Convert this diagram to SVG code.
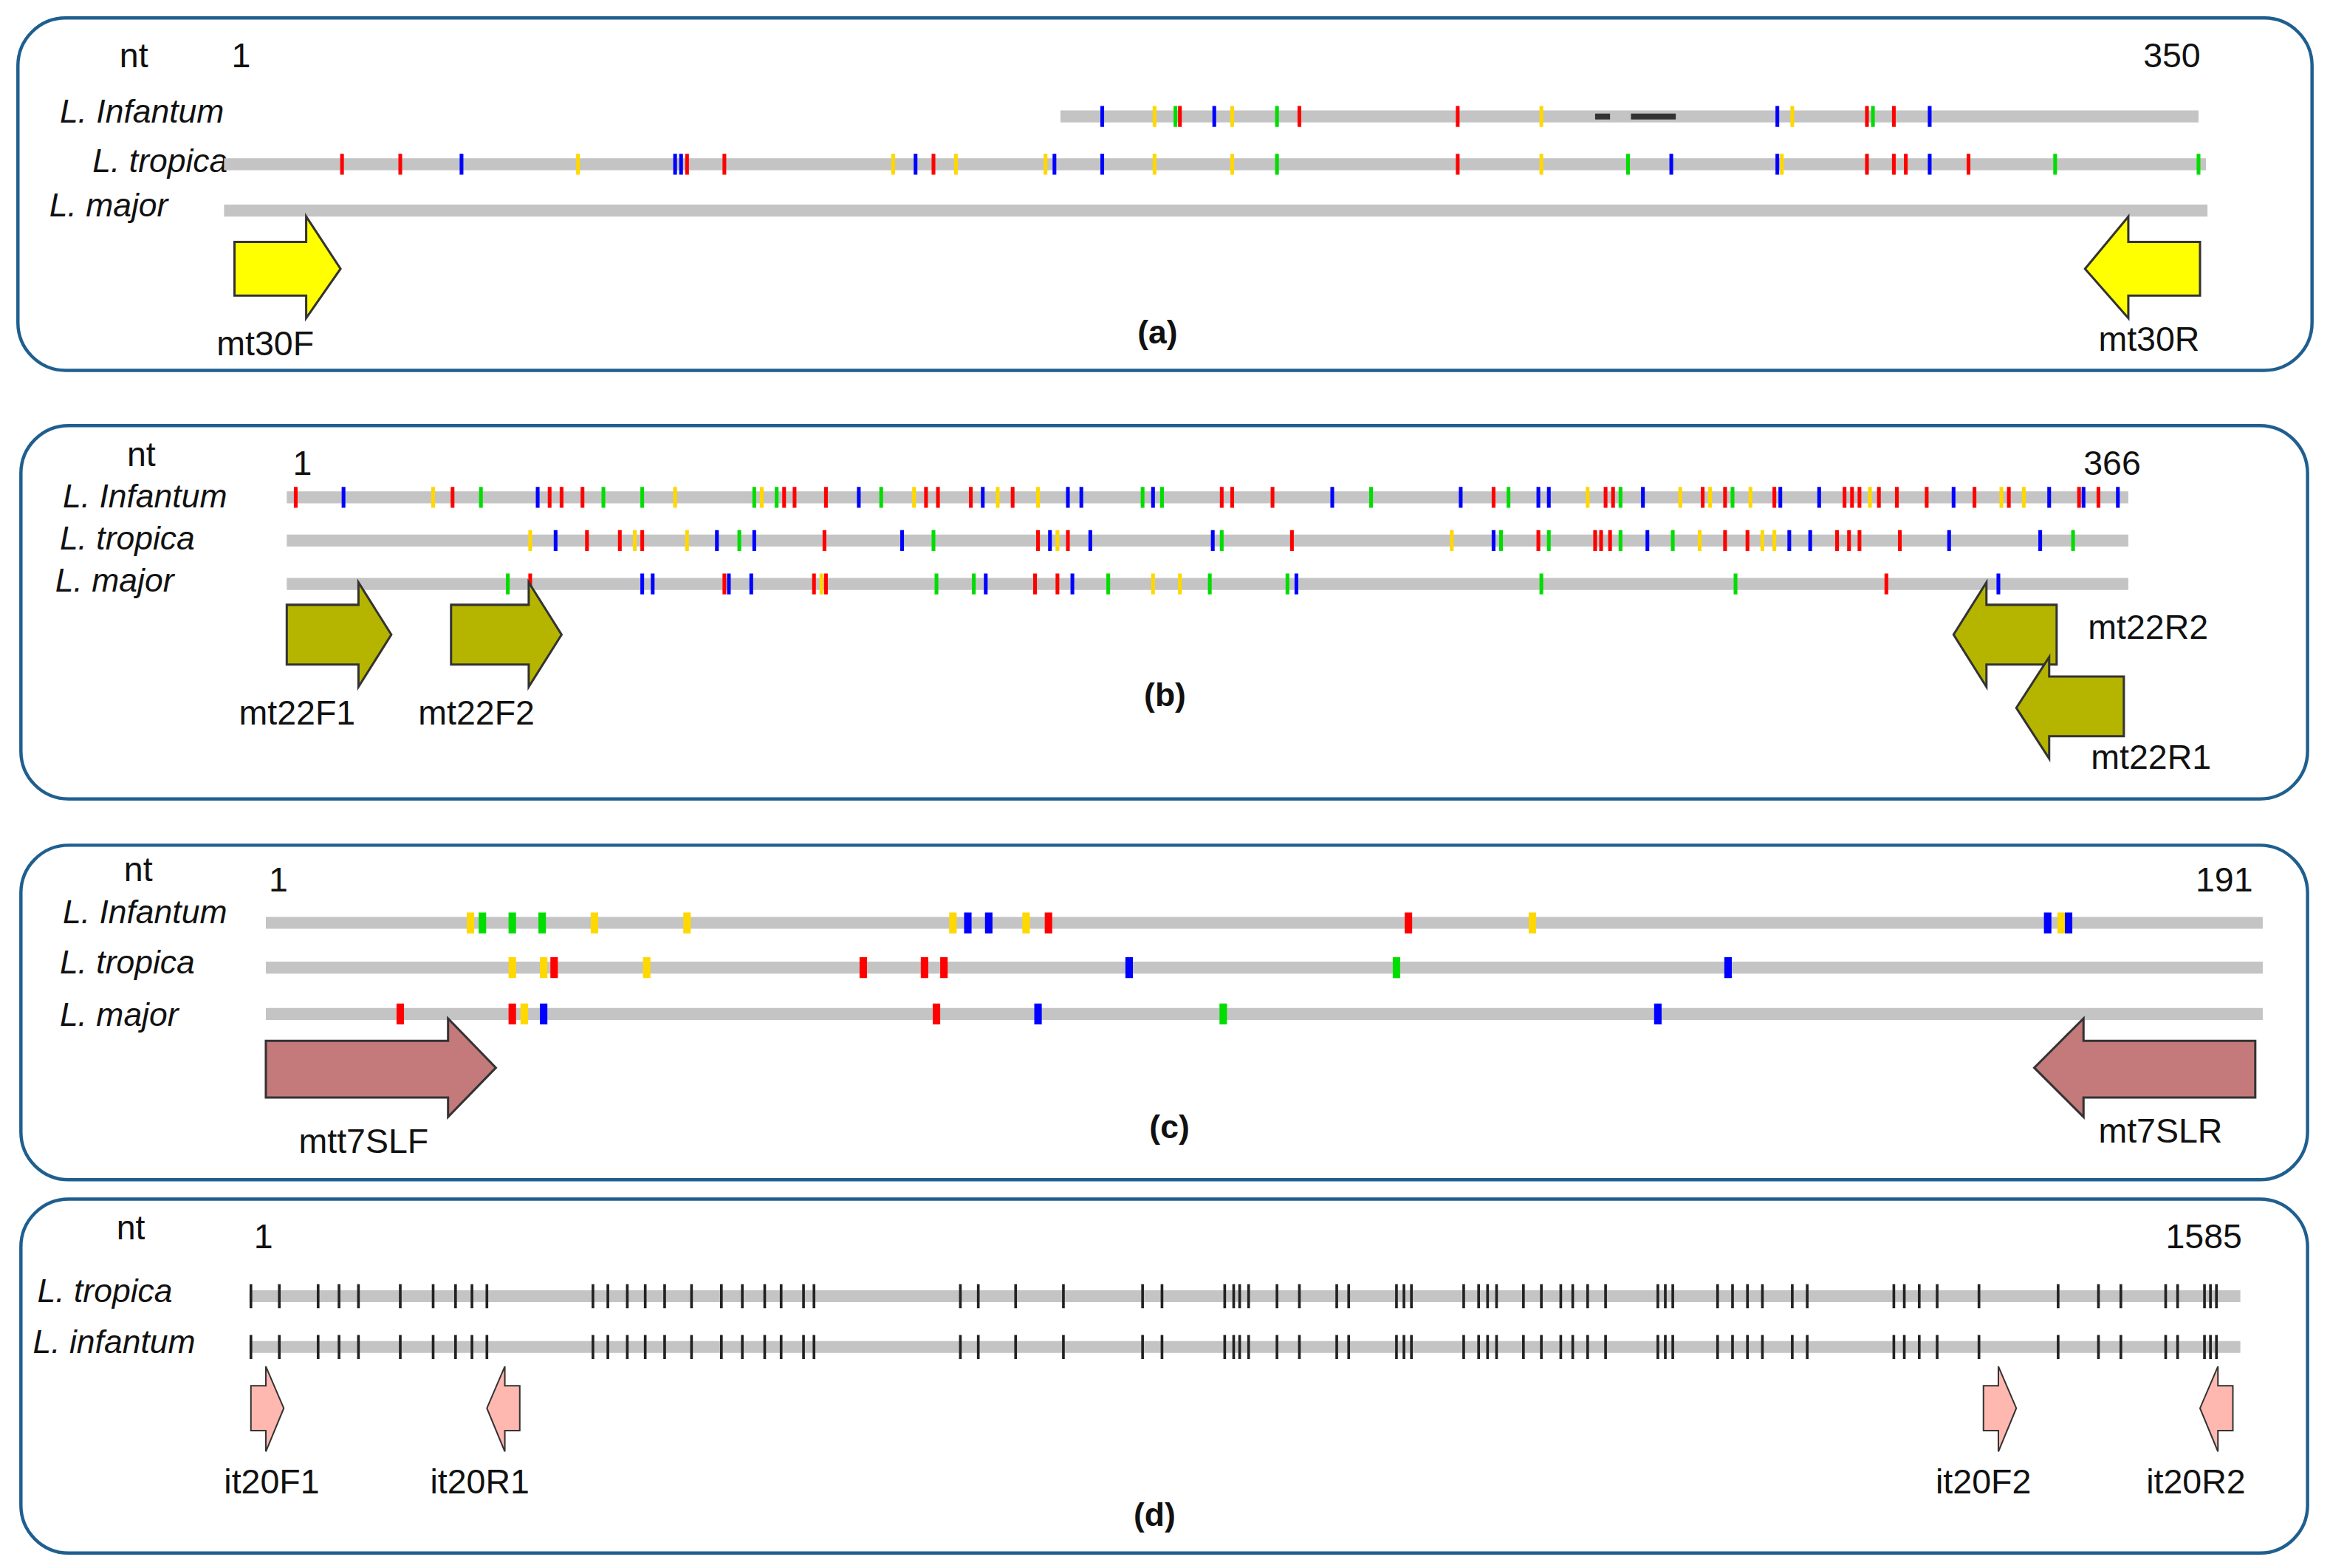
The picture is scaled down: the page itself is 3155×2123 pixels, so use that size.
<svg xmlns="http://www.w3.org/2000/svg" width="3155" height="2123" viewBox="0 0 3155 2123">
<style>
.box{fill:#fff;stroke:#1f5f8f;stroke-width:2.2}
.bar{stroke:#c4c4c4;stroke-width:8}
.R{stroke:#ff0000;stroke-width:2.5;fill:none}.B{stroke:#0000ff;stroke-width:2.5;fill:none}.Y{stroke:#ffd800;stroke-width:2.5;fill:none}.G{stroke:#00dd00;stroke-width:2.5;fill:none}
.w .R,.w .B,.w .Y,.w .G{stroke-width:5}
.K{stroke:#222;stroke-width:1.8;fill:none}
.t{font-family:"Liberation Sans",Arial,sans-serif;font-size:23px;fill:#111}
.sp{font-family:"Liberation Sans",Arial,sans-serif;font-size:22px;font-style:italic;fill:#111}
.lab{font-family:"Liberation Sans",Arial,sans-serif;font-size:22px;font-weight:bold;fill:#111;text-anchor:middle}
.ya{fill:#ffff00;stroke:#333;stroke-width:1.5}
.oa{fill:#b5b500;stroke:#333;stroke-width:1.5}
.ra{fill:#c47a7a;stroke:#333;stroke-width:1.5}
.pa{fill:#ffb8b0;stroke:#333;stroke-width:1}
</style>
<g transform="scale(2.0224 2.0219)">
<g id="panelA">
<rect class="box" x="12" y="12" width="1536" height="236" rx="32"/>
<text class="t" x="80" y="45">nt</text><text class="t" x="155" y="45">1</text><text class="t" x="1435" y="45">350</text>
<text class="sp" x="40" y="82">L. Infantum</text><text class="sp" x="62" y="115">L. tropica</text><text class="sp" x="33" y="145">L. major</text>
<path class="bar" d="M710 78H1472M150 110H1477M150 141H1478"/>
<path d="M1068 78h10M1092 78h30" stroke="#333" stroke-width="4"/>
<path class="B" d="M738 71v14M813 71v14M1190 71v14M1292 71v14"/>
<path class="Y" d="M773 71v14M825 71v14M1032 71v14M1200 71v14"/>
<path class="G" d="M787 71v14M855 71v14M1254 71v14"/>
<path class="R" d="M790 71v14M870 71v14M976 71v14M1250 71v14M1268 71v14"/>
<path class="R" d="M229 103v14M268 103v14M460 103v14M485 103v14M625 103v14M976 103v14M1250 103v14M1268 103v14M1276 103v14M1318 103v14"/>
<path class="B" d="M309 103v14M452 103v14M456 103v14M613 103v14M706 103v14M738 103v14M1119 103v14M1190 103v14M1292 103v14"/>
<path class="Y" d="M387 103v14M598 103v14M640 103v14M700 103v14M773 103v14M825 103v14M1032 103v14M1193 103v14"/>
<path class="G" d="M855 103v14M1090 103v14M1376 103v14M1472 103v14"/>
<polygon class="ya" points="157,162 205,162 205,145 228,180 205,213 205,198 157,198"/>
<polygon class="ya" points="1473,162 1425,162 1425,145 1396,180 1425,213 1425,198 1473,198"/>
<text class="t" x="145" y="238">mt30F</text><text class="t" x="1405" y="235">mt30R</text>
<text class="lab" x="775" y="230">(a)</text>
</g>
<g id="panelB">
<rect class="box" x="14" y="285" width="1531" height="250" rx="32"/>
<text class="t" x="85" y="312">nt</text><text class="t" x="196" y="318">1</text><text class="t" x="1395" y="318">366</text>
<text class="sp" x="42" y="340">L. Infantum</text><text class="sp" x="40" y="368">L. tropica</text><text class="sp" x="37" y="396">L. major</text>
<path class="bar" d="M192 333H1425M192 362H1425M192 391H1425"/>
<path class="R" d="M198 326v14M303 326v14M368 326v14M376 326v14M390 326v14M525 326v14M532 326v14M553 326v14M620 326v14M628 326v14M650 326v14M678 326v14M818 326v14M825 326v14M852 326v14M1000 326v14M1075 326v14M1080 326v14M1140 326v14M1155 326v14M1188 326v14M1235 326v14M1240 326v14M1245 326v14M1258 326v14M1270 326v14M1290 326v14M1322 326v14M1345 326v14M1392 326v14M1405 326v14"/>
<path class="B" d="M230 326v14M360 326v14M575 326v14M658 326v14M715 326v14M724 326v14M772 326v14M892 326v14M978 326v14M1030 326v14M1037 326v14M1100 326v14M1192 326v14M1218 326v14M1308 326v14M1372 326v14M1395 326v14M1418 326v14"/>
<path class="Y" d="M290 326v14M452 326v14M510 326v14M612 326v14M668 326v14M695 326v14M1063 326v14M1125 326v14M1145 326v14M1172 326v14M1252 326v14M1340 326v14M1355 326v14"/>
<path class="G" d="M322 326v14M404 326v14M430 326v14M505 326v14M520 326v14M590 326v14M765 326v14M778 326v14M918 326v14M1010 326v14M1085 326v14M1160 326v14"/>
<path class="Y" d="M355 355v14M425 355v14M460 355v14M708 355v14M972 355v14M1138 355v14M1180 355v14M1188 355v14"/>
<path class="B" d="M372 355v14M480 355v14M505 355v14M604 355v14M703 355v14M730 355v14M812 355v14M1000 355v14M1103 355v14M1198 355v14M1212 355v14M1305 355v14M1366 355v14"/>
<path class="R" d="M393 355v14M415 355v14M430 355v14M552 355v14M695 355v14M715 355v14M865 355v14M1030 355v14M1068 355v14M1072 355v14M1078 355v14M1155 355v14M1170 355v14M1230 355v14M1238 355v14M1245 355v14M1272 355v14"/>
<path class="G" d="M495 355v14M625 355v14M818 355v14M1005 355v14M1037 355v14M1085 355v14M1120 355v14M1388 355v14"/>
<path class="G" d="M340 384v14M627 384v14M652 384v14M742 384v14M810 384v14M862 384v14M1032 384v14M1162 384v14"/>
<path class="R" d="M355 384v14M485 384v14M545 384v14M553 384v14M693 384v14M708 384v14M1263 384v14"/>
<path class="B" d="M430 384v14M437 384v14M488 384v14M503 384v14M660 384v14M718 384v14M868 384v14M1338 384v14"/>
<path class="Y" d="M550 384v14M772 384v14M790 384v14"/>
<polygon class="oa" points="192,405 240,405 240,390 262,425 240,460 240,445 192,445"/>
<polygon class="oa" points="302,405 354,405 354,390 376,425 354,460 354,445 302,445"/>
<polygon class="oa" points="1377,405 1330,405 1330,390 1308,425 1330,460 1330,445 1377,445"/>
<polygon class="oa" points="1422,453 1372,453 1372,440 1350,474 1372,508 1372,493 1422,493"/>
<text class="t" x="160" y="485">mt22F1</text><text class="t" x="280" y="485">mt22F2</text>
<text class="t" x="1398" y="428">mt22R2</text><text class="t" x="1400" y="515">mt22R1</text>
<text class="lab" x="780" y="473">(b)</text>
</g>
<g id="panelC" class="w">
<rect class="box" x="14" y="566" width="1531" height="224" rx="32"/>
<text class="t" x="83" y="590">nt</text><text class="t" x="180" y="597">1</text><text class="t" x="1470" y="597">191</text>
<text class="sp" x="42" y="618">L. Infantum</text><text class="sp" x="40" y="652">L. tropica</text><text class="sp" x="40" y="687">L. major</text>
<path class="bar" d="M178 618H1515M178 648H1515M178 679H1515"/>
<path class="Y" d="M315 611v14M398 611v14M460 611v14M638 611v14M687 611v14M1026 611v14M1380 611v14"/>
<path class="G" d="M323 611v14M343 611v14M363 611v14"/>
<path class="B" d="M648 611v14M662 611v14M1371 611v14M1385 611v14"/>
<path class="R" d="M702 611v14M943 611v14"/>
<path class="Y" d="M343 641v14M364 641v14M433 641v14"/>
<path class="R" d="M371 641v14M578 641v14M619 641v14M632 641v14"/>
<path class="B" d="M756 641v14M1157 641v14"/>
<path class="G" d="M935 641v14"/>
<path class="R" d="M268 672v14M343 672v14M627 672v14"/>
<path class="Y" d="M351 672v14"/>
<path class="B" d="M364 672v14M695 672v14M1110 672v14"/>
<path class="G" d="M819 672v14"/>
<polygon class="ra" points="178,697 300,697 300,682 332,715 300,748 300,735 178,735"/>
<polygon class="ra" points="1510,697 1395,697 1395,682 1362,715 1395,748 1395,735 1510,735"/>
<text class="t" x="200" y="772">mtt7SLF</text><text class="t" x="1405" y="765">mt7SLR</text>
<text class="lab" x="783" y="762">(c)</text>
</g>
<g id="panelD">
<rect class="box" x="14" y="803" width="1531" height="237" rx="32"/>
<text class="t" x="78" y="830">nt</text><text class="t" x="170" y="836">1</text><text class="t" x="1450" y="836">1585</text>
<text class="sp" x="25" y="872">L. tropica</text><text class="sp" x="22" y="906">L. infantum</text>
<path class="bar" d="M167 868H1500M167 902H1500"/>
<path class="K" d="M168 860v16M187 860v16M213 860v16M227 860v16M240 860v16M268 860v16M290 860v16M305 860v16M316 860v16M326 860v16M397 860v16M407 860v16M420 860v16M432 860v16M445 860v16M463 860v16M483 860v16M497 860v16M512 860v16M523 860v16M538 860v16M545 860v16M643 860v16M655 860v16M680 860v16M712 860v16M765 860v16M778 860v16M820 860v16M826 860v16M830 860v16M836 860v16M855 860v16M870 860v16M895 860v16M903 860v16M935 860v16M940 860v16M945 860v16M980 860v16M990 860v16M996 860v16M1002 860v16M1020 860v16M1032 860v16M1045 860v16M1053 860v16M1063 860v16M1075 860v16M1110 860v16M1115 860v16M1120 860v16M1150 860v16M1160 860v16M1170 860v16M1180 860v16M1200 860v16M1210 860v16M1268 860v16M1275 860v16M1285 860v16M1297 860v16M1325 860v16M1378 860v16M1405 860v16M1420 860v16M1450 860v16M1458 860v16M1476 860v16M1480 860v16M1484 860v16"/>
<path class="K" transform="translate(0 34)" d="M168 860v16M187 860v16M213 860v16M227 860v16M240 860v16M268 860v16M290 860v16M305 860v16M316 860v16M326 860v16M397 860v16M407 860v16M420 860v16M432 860v16M445 860v16M463 860v16M483 860v16M497 860v16M512 860v16M523 860v16M538 860v16M545 860v16M643 860v16M655 860v16M680 860v16M712 860v16M765 860v16M778 860v16M820 860v16M826 860v16M830 860v16M836 860v16M855 860v16M870 860v16M895 860v16M903 860v16M935 860v16M940 860v16M945 860v16M980 860v16M990 860v16M996 860v16M1002 860v16M1020 860v16M1032 860v16M1045 860v16M1053 860v16M1063 860v16M1075 860v16M1110 860v16M1115 860v16M1120 860v16M1150 860v16M1160 860v16M1170 860v16M1180 860v16M1200 860v16M1210 860v16M1268 860v16M1275 860v16M1285 860v16M1297 860v16M1325 860v16M1378 860v16M1405 860v16M1420 860v16M1450 860v16M1458 860v16M1476 860v16M1480 860v16M1484 860v16"/>
<polygon class="pa" points="168,928 178,928 178,915 190,943 178,972 178,958 168,958"/>
<polygon class="pa" points="348,928 338,928 338,915 326,943 338,972 338,958 348,958"/>
<polygon class="pa" points="1328,928 1338,928 1338,915 1350,943 1338,972 1338,958 1328,958"/>
<polygon class="pa" points="1495,928 1485,928 1485,915 1473,943 1485,972 1485,958 1495,958"/>
<text class="t" x="150" y="1000">it20F1</text><text class="t" x="288" y="1000">it20R1</text>
<text class="t" x="1296" y="1000">it20F2</text><text class="t" x="1437" y="1000">it20R2</text>
<text class="lab" x="773" y="1022">(d)</text>
</g>
</g>
</svg>
